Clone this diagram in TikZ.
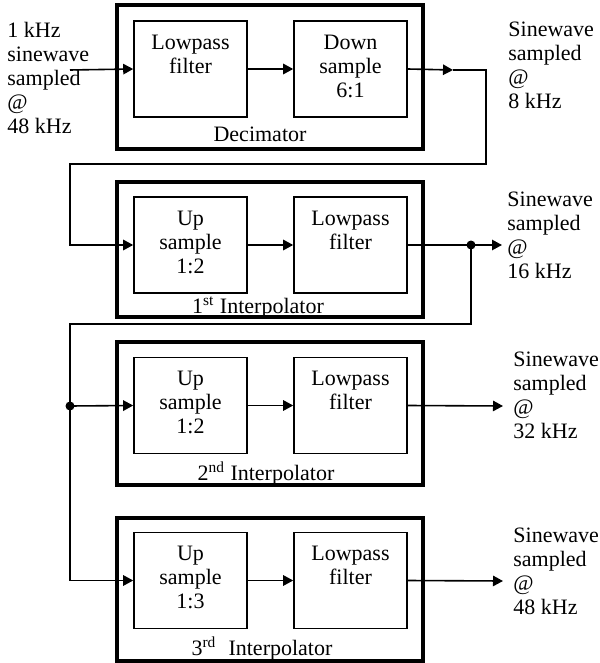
\documentclass[tikz,border=0pt]{standalone}
\usepackage{fontspec}
\setmainfont{Liberation Serif}
\usetikzlibrary{arrows.meta}
\begin{document}
\begin{tikzpicture}[x=0.5pt,y=-0.5pt,
  every node/.style={font=\fontsize{11pt}{12pt}\selectfont},
  stage/.style={draw, line width=1.6pt, minimum width=153pt, inner sep=0pt},
  block/.style={draw, line width=0.8pt, minimum width=56.5pt, minimum height=48pt, inner sep=0pt},
  blocktext/.style={anchor=north, inner sep=0pt, align=center},
  caption/.style={anchor=base, inner sep=0pt},
  note/.style={anchor=north west, inner sep=0pt, align=left},
  conn/.style={line width=0.8pt},
  arr/.style={conn, -{Triangle[length=5pt,width=5.2pt]}},
  dot/.style={circle, fill, inner sep=0pt, minimum size=4.5pt}]
\useasboundingbox (0,0) rectangle (599,663);

% outer stage frames
\node[stage, minimum height=72pt]   (dec)  at (270,77)    {};
\node[stage, minimum height=67.5pt] (int1) at (270,249.5) {};
\node[stage, minimum height=71.5pt] (int2) at (270,413.5) {};
\node[stage, minimum height=71.5pt] (int3) at (270,589.5) {};

% inner processing blocks
\node[block] (lp1) at (190.5,69)    {};
\node[block] (ds)  at (350.5,69)    {};
\node[block] (up1) at (190.5,245)   {};
\node[block] (lp2) at (350.5,245)   {};
\node[block] (up2) at (190.5,405.5) {};
\node[block] (lp3) at (350.5,405.5) {};
\node[block] (up3) at (190.5,580.5) {};
\node[block] (lp4) at (350.5,580.5) {};

% block texts
\node[blocktext] (lp1t) at ([yshift=-7pt]lp1.north) {Lowpass\\filter};
\node[blocktext] (dst)  at ([yshift=-7pt]ds.north)  {Down\\sample\\6:1};
\node[blocktext] (up1t) at ([yshift=-7pt]up1.north) {Up\\sample\\1:2};
\node[blocktext] (lp2t) at ([yshift=-7pt]lp2.north) {Lowpass\\filter};
\node[blocktext] (up2t) at ([yshift=-7pt]up2.north) {Up\\sample\\1:2};
\node[blocktext] (lp3t) at ([yshift=-7pt]lp3.north) {Lowpass\\filter};
\node[blocktext] (up3t) at ([yshift=-7pt]up3.north) {Up\\sample\\1:3};
\node[blocktext] (lp4t) at ([yshift=-7pt]lp4.north) {Lowpass\\filter};

% stage captions
\node[caption] (decl)  at (260,142) {Decimator};
\node[caption] (int1l) at (258,313) {1\textsuperscript{st} Interpolator};
\node[caption] (int2l) at (266,480) {2\textsuperscript{nd} Interpolator};
\node[caption] (int3l) at (262,655) {3\textsuperscript{rd}\hspace{0.55em}Interpolator};

% signal descriptions
\node[note] (src) at (7,22)    {1 kHz\\sinewave\\sampled\\@\\48 kHz};
\node[note] (o8)  at (508,22)  {Sinewave\\sampled\\@\\8 kHz};
\node[note] (o16) at (507,192) {Sinewave\\sampled\\@\\16 kHz};
\node[note] (o32) at (513,352) {Sinewave\\sampled\\@\\32 kHz};
\node[note] (o48) at (513,528) {Sinewave\\sampled\\@\\48 kHz};

% junctions and routing points
\node[dot] (j1) at (471,245) {};
\node[dot] (j2) at (70,406)  {};
\coordinate (in) at (70,70);
\coordinate (t1) at (453,70);
\coordinate (c1) at (486,164);
\coordinate (c2) at (70,164);
\coordinate (c3) at (70,324);
\coordinate (t2) at (502,245);
\coordinate (t3) at (503,406);
\coordinate (t4) at (503,581);

% decimator path
\draw[arr] (in) -- (lp1.west);
\draw[arr] (lp1.east) -- (ds.west);
\draw[arr] (ds.east) -- (t1);
\draw[arr] (t1) -| (c1) -- (c2) |- (up1.west);

% first interpolator
\draw[arr] (up1.east) -- (lp2.west);
\draw[conn] (lp2.east) -- (j1.center);
\draw[arr] (j1.center) -- (t2);
\draw[conn] (j1.center) |- (c3) -- (j2.center);

% second interpolator
\draw[arr] (j2.center) -- (up2.west);
\draw[arr] (up2.east) -- (lp3.west);
\draw[arr] (lp3.east) -- (t3);

% third interpolator
\draw[arr] (j2.center) |- (up3.west);
\draw[arr] (up3.east) -- (lp4.west);
\draw[arr] (lp4.east) -- (t4);
\end{tikzpicture}
\end{document}
